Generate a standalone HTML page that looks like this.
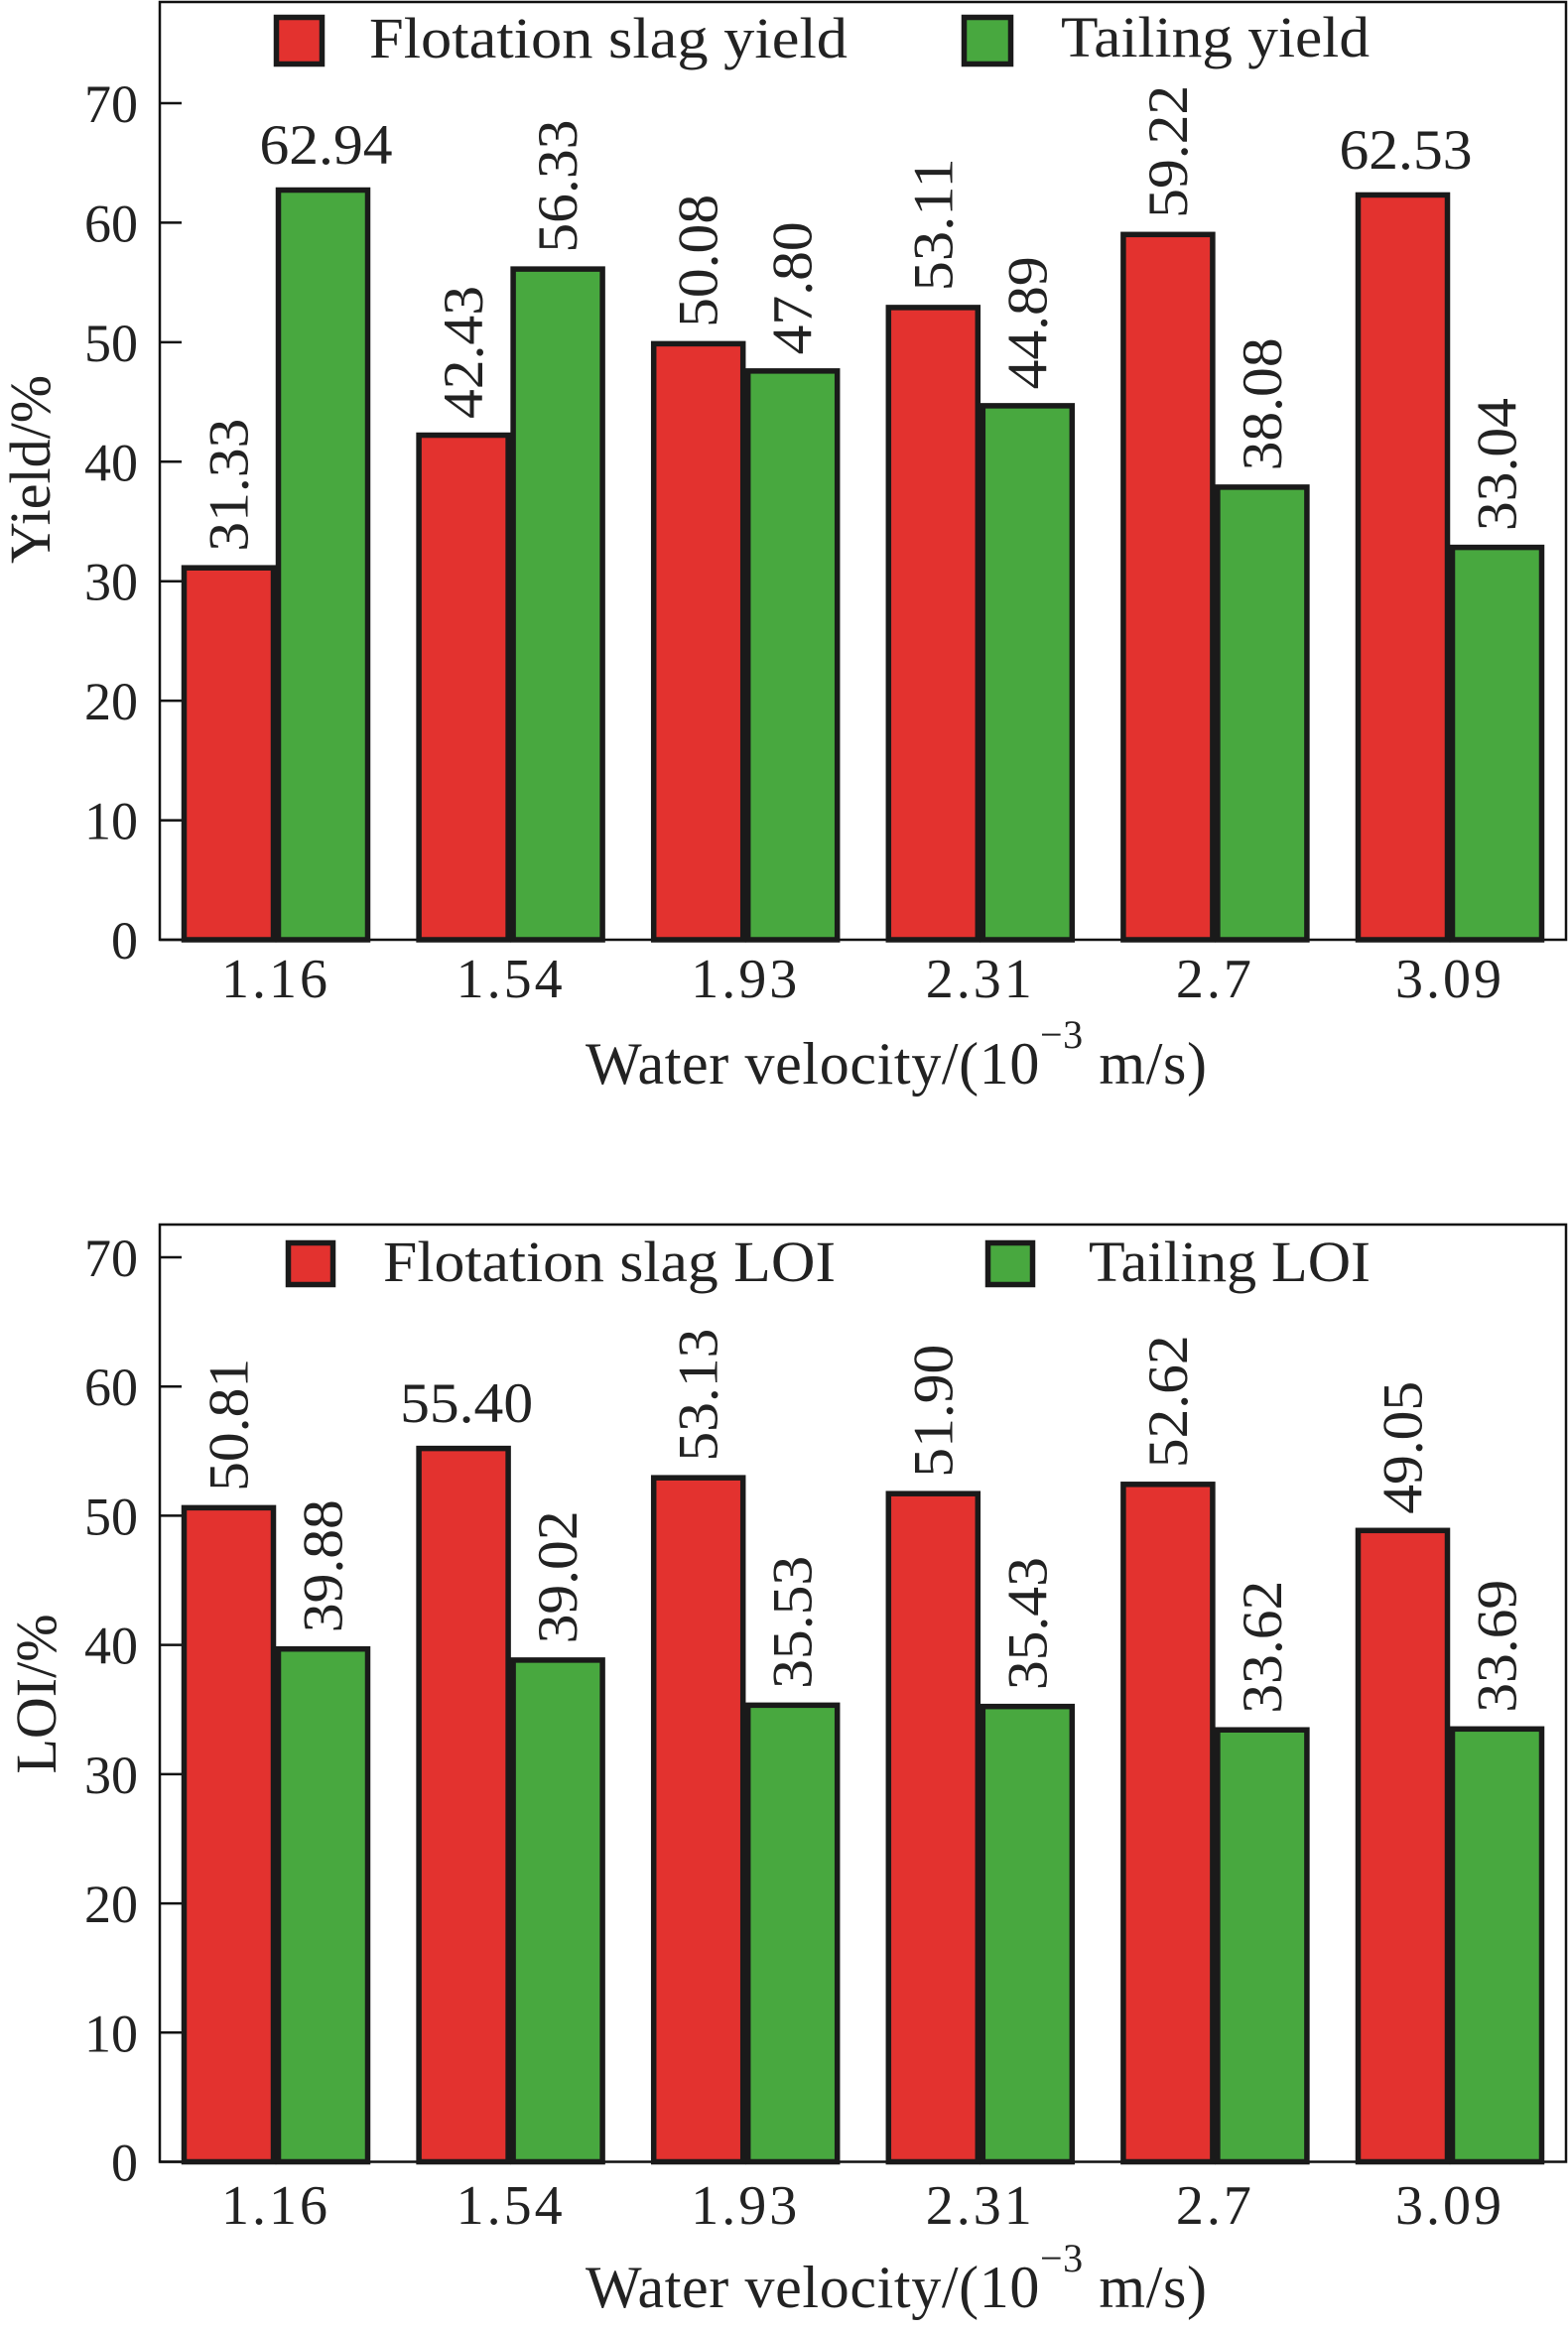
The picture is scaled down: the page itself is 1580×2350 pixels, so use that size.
<!DOCTYPE html>
<html><head><meta charset="utf-8">
<style>
html,body{margin:0;padding:0;background:#fff;}
svg, svg text{font-family:"Liberation Serif","Times New Roman","DejaVu Serif",serif;}
</style></head>
<body>
<svg id="fig" width="1580" height="2345" viewBox="0 0 1580 2345" xmlns="http://www.w3.org/2000/svg" font-family="Liberation Serif, Times New Roman, DejaVu Serif, serif"></svg>
<script>
const categories = ["1.16","1.54","1.93","2.31","2.7","3.09"];
const yieldSlag = [31.33,42.43,50.08,53.11,59.22,62.53];
const yieldTail = [62.94,56.33,47.80,44.89,38.08,33.04];
const yieldSlagLabels = ["31.33","42.43","50.08","53.11","59.22","62.53"];
const yieldTailLabels = ["62.94","56.33","47.80","44.89","38.08","33.04"];
const loiSlag = [50.81,55.40,53.13,51.90,52.62,49.05];
const loiTail = [39.88,39.02,35.53,35.43,33.62,33.69];
const loiSlagLabels = ["50.81","55.40","53.13","51.90","52.62","49.05"];
const loiTailLabels = ["39.88","39.02","35.53","35.43","33.62","33.69"];
const yTicks = [0,10,20,30,40,50,60,70];
const yTickLabels = ["0","10","20","30","40","50","60","70"];

const NS="http://www.w3.org/2000/svg";
const FONT="Liberation Serif, Times New Roman, DejaVu Serif, serif";
const svg=document.getElementById('fig');
function mk(tag,attrs,parent){const e=document.createElementNS(NS,tag);for(const k in attrs)e.setAttribute(k,attrs[k]);if(tag==='text')e.setAttribute('font-family',FONT);(parent||svg).appendChild(e);return e;}

function chart(cfg){
  const g=mk('g',{});
  
  
  const x0=161,x1=1578;
  const yScale=v=>cfg.y0-(cfg.y0-cfg.y70)*v/70;
  const pitch=236.6, bw=95, first=183;
  const xScale=(i,s)=>first+i*pitch+s*bw;
  const fr=mk('rect',{x:x0,y:cfg.top,width:x1-x0,height:cfg.y0-cfg.top,fill:'none',stroke:'#111','stroke-width':2.5},g);
  
  
  yTicks.forEach((t,i)=>{
    const y=yScale(t);
    const tk=mk('line',{x1:x0,x2:x0+22,y1:y,y2:y,stroke:'#111','stroke-width':2.5},g);
    
    
    const tl=mk('text',{x:139,y:y+19,'text-anchor':'end','font-size':54,fill:'#222'},g);
    tl.textContent=yTickLabels[i];
    
    
  });
  const series=[[cfg.slag,cfg.slagLabels,'#e3322f','slag'],[cfg.tail,cfg.tailLabels,'#48a83f','tailing']];
  series.forEach((s,si)=>{
    s[0].forEach((v,i)=>{
      const x=xScale(i,si), y=yScale(v);
      const r=mk('rect',{x:x+2.5,y:y+2.5,width:bw-5,height:cfg.y0-y-2.5,fill:s[2],stroke:'#1a1a1a','stroke-width':5.5},g);
      
      
      const horiz=cfg.horiz[si][i];
      const cx=x+bw/2;
      let t;
      if(horiz){
        t=mk('text',{x:cx+3,y:y-24,'text-anchor':'middle','font-size':57,fill:'#222',textLength:134,lengthAdjust:'spacingAndGlyphs'},g);
      }else{
        t=mk('text',{x:0,y:0,'text-anchor':'start','font-size':57,fill:'#222',textLength:134,lengthAdjust:'spacingAndGlyphs',transform:`translate(${cx+19},${y-14}) rotate(-90)`},g);
      }
      t.textContent=s[1][i];
      
      
    });
  });
  categories.forEach((c,i)=>{
    const cx=xScale(i,1);
    const t=mk('text',{x:cx,y:cfg.xlabY,'text-anchor':'middle','font-size':56,fill:'#222','letter-spacing':3},g);
    t.textContent=c;
    
    
  });
  const xt=mk('text',{x:590,y:cfg.xtitY,'font-size':60,fill:'#222'},g);
  
  
  const a=mk('tspan',{},xt);a.textContent='Water velocity/(10';
  const b=mk('tspan',{dy:-36,'font-size':40},xt);b.textContent='−3';
  const c=mk('tspan',{dy:36},xt);c.textContent=' m/s)';
  xt.setAttribute('textLength',626);
  const yt=mk('text',{x:0,y:0,'text-anchor':'middle','font-size':58,fill:'#222',transform:`translate(${cfg.ytitX},${cfg.ytitY}) rotate(-90)`},g);
  yt.textContent=cfg.ytitle;
  
  
  cfg.legend.forEach((L,i)=>{
    const lg=mk('g',{},g);
    
    
    mk('rect',{x:L.sx+2.5,y:L.sy+2.5,width:L.sw-5,height:L.sh-5,fill:i?'#48a83f':'#e3322f',stroke:'#1a1a1a','stroke-width':5.5},lg);
    const t=mk('text',{x:L.tx,y:L.ty,'font-size':58,fill:'#222',textLength:L.tw,lengthAdjust:'spacingAndGlyphs'},lg);
    t.textContent=L.text;
  });
}

chart({name:'yield-chart',top:2,y0:947,y70:104,slag:yieldSlag,tail:yieldTail,slagLabels:yieldSlagLabels,tailLabels:yieldTailLabels,
  horiz:[[0,0,0,0,0,1],[1,0,0,0,0,0]],xlabY:1005,xtitY:1092,ytitle:'Yield/%',ytitX:50,ytitY:473,
  legend:[{sx:276,sy:15,sw:51,sh:52,tx:372,ty:58,tw:482,text:'Flotation slag yield'},
          {sx:969,sy:15,sw:52,sh:52,tx:1069,ty:57,tw:311,text:'Tailing yield'}]});

chart({name:'loi-chart',top:1234,y0:2178.5,y70:1267,slag:loiSlag,tail:loiTail,slagLabels:loiSlagLabels,tailLabels:loiTailLabels,
  horiz:[[0,1,0,0,0,0],[0,0,0,0,0,0]],xlabY:2241,xtitY:2325,ytitle:'LOI/%',ytitX:56,ytitY:1707,
  legend:[{sx:288,sy:1250,sw:50,sh:47,tx:386,ty:1291,tw:456,text:'Flotation slag LOI'},
          {sx:993,sy:1250,sw:50,sh:47,tx:1097,ty:1291,tw:284,text:'Tailing LOI'}]});
</script>
</body></html>
